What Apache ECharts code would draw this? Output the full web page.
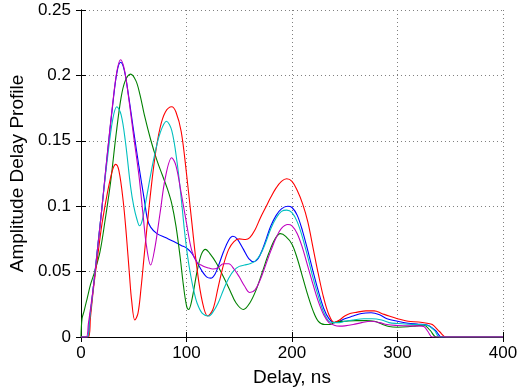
<!DOCTYPE html>
<html><head><meta charset="utf-8">
<script src="https://cdn.jsdelivr.net/npm/echarts@6/dist/echarts.min.js"></script>
<style>html,body{margin:0;padding:0;background:#fff}#c{width:525px;height:392px}</style>
</head><body><div id="c"></div>
<script>
const xTicks = [0, 100, 200, 300, 400];
const yTicks = [0, 0.05, 0.1, 0.15, 0.2, 0.25];
const seriesNames = ['blue', 'green', 'red', 'cyan', 'magenta'];

const blueData = [[0,0],[6,0],[8,0.012],[12,0.04],[16,0.07],[20,0.1],[25,0.14],[30,0.177],[34,0.202],[37.5,0.21],[41,0.204],[45,0.185],[50,0.157],[55,0.13],[60,0.105],[63,0.09],[66,0.084],[72,0.079],[80,0.076],[88,0.073],[95,0.070],[100,0.068],[105,0.064],[110,0.057],[115,0.05],[119,0.046],[123,0.045],[127,0.048],[131,0.056],[135,0.065],[140,0.074],[144,0.077],[148,0.075],[154,0.067],[159,0.06],[164,0.0575],[168,0.06],[172,0.067],[176,0.076],[180,0.085],[185,0.093],[190,0.098],[196,0.100],[200,0.099],[205,0.093],[210,0.081],[215,0.066],[220,0.050],[225,0.035],[230,0.022],[235,0.014],[240,0.011],[245,0.012],[250,0.014],[258,0.016],[266,0.018],[275,0.0185],[283,0.017],[290,0.014],[300,0.012],[310,0.0105],[320,0.0098],[328,0.0092],[336,0.005],[342,0],[400,0]];

const greenData = [[0,0],[1,0.014],[3,0.02],[6,0.03],[9,0.04],[13,0.05],[18,0.065],[23,0.09],[28,0.118],[33,0.153],[38,0.183],[42,0.196],[47,0.201],[52,0.196],[56,0.185],[60,0.17],[66,0.151],[72,0.135],[77,0.124],[82,0.113],[86,0.102],[90,0.085],[94,0.061],[97,0.04],[100,0.024],[102,0.021],[105,0.028],[110,0.05],[114,0.063],[118,0.067],[122,0.064],[128,0.057],[135,0.046],[141,0.036],[147,0.026],[154,0.021],[160,0.026],[166,0.036],[172,0.05],[178,0.064],[184,0.075],[189,0.079],[194,0.077],[200,0.071],[205,0.060],[210,0.046],[215,0.032],[220,0.020],[225,0.012],[231,0.0095],[236,0.0095],[241,0.0115],[250,0.012],[260,0.0125],[270,0.0125],[278,0.012],[285,0.01],[292,0.008],[300,0.0075],[310,0.0078],[318,0.0085],[325,0.009],[331,0.005],[337,0],[400,0]];

const redData = [[0,0],[7,0],[9,0.015],[12,0.038],[16,0.063],[20,0.087],[25,0.11],[30,0.128],[33,0.132],[36,0.127],[40,0.104],[43,0.078],[46,0.047],[48,0.028],[51,0.013],[54,0.018],[57,0.038],[60,0.063],[65,0.103],[70,0.137],[75,0.16],[80,0.172],[86,0.176],[90,0.172],[95,0.157],[100,0.125],[105,0.088],[110,0.052],[115,0.027],[120,0.016],[125,0.021],[130,0.038],[135,0.055],[140,0.067],[145,0.073],[150,0.075],[156,0.0745],[160,0.076],[165,0.082],[170,0.091],[175,0.099],[180,0.107],[185,0.114],[190,0.119],[195,0.121],[200,0.119],[205,0.112],[210,0.102],[215,0.088],[220,0.068],[225,0.048],[230,0.030],[235,0.017],[240,0.011],[245,0.013],[250,0.016],[255,0.018],[262,0.019],[270,0.020],[278,0.020],[285,0.018],[292,0.016],[300,0.014],[310,0.012],[320,0.0115],[328,0.0105],[333,0.0095],[340,0.004],[346,0],[400,0]];

const cyanData = [[0,0],[6,0],[8,0.012],[12,0.04],[16,0.07],[20,0.1],[25,0.136],[30,0.166],[34,0.176],[38,0.17],[42,0.15],[47,0.115],[50,0.1],[53,0.09],[55.5,0.085],[58,0.089],[62,0.106],[66,0.124],[70,0.14],[75,0.156],[81,0.165],[86,0.158],[91,0.134],[95,0.106],[98,0.082],[101,0.062],[104,0.047],[107,0.035],[110,0.026],[115,0.018],[121,0.016],[125,0.019],[130,0.026],[135,0.036],[140,0.045],[145,0.051],[150,0.054],[155,0.055],[160,0.056],[165,0.058],[170,0.063],[175,0.072],[180,0.083],[185,0.091],[190,0.096],[195,0.097],[200,0.095],[205,0.088],[210,0.076],[215,0.061],[220,0.045],[225,0.031],[230,0.019],[235,0.012],[240,0.011],[245,0.011],[250,0.012],[258,0.013],[268,0.014],[276,0.014],[285,0.013],[292,0.011],[300,0.0103],[310,0.0098],[320,0.0095],[328,0.009],[335,0.005],[340,0],[400,0]];

const magentaData = [[0,0],[5,0],[7,0.01],[12,0.04],[16,0.07],[20,0.1],[25,0.14],[30,0.178],[34,0.203],[37.5,0.212],[41,0.205],[45,0.184],[50,0.153],[55,0.123],[59,0.092],[62,0.07],[66,0.055],[70,0.068],[75,0.095],[80,0.122],[86,0.137],[90,0.131],[95,0.11],[100,0.087],[105,0.066],[110,0.057],[115,0.0545],[120,0.053],[125,0.052],[130,0.053],[135,0.056],[140,0.056],[145,0.052],[150,0.046],[155,0.039],[160,0.034],[165,0.036],[170,0.044],[175,0.055],[180,0.066],[185,0.076],[190,0.083],[196,0.086],[200,0.085],[205,0.079],[210,0.068],[215,0.054],[220,0.040],[225,0.027],[230,0.017],[235,0.011],[240,0.009],[245,0.0083],[250,0.0085],[258,0.0095],[266,0.011],[275,0.012],[283,0.011],[290,0.0095],[300,0.0088],[310,0.0085],[320,0.0085],[325,0.008],[329,0.004],[333,0],[400,0]];

const allData = [blueData, greenData, redData, cyanData, magentaData];
const colors = ['#0000FF', '#008000', '#FF0000', '#00BFBF', '#BF00BF'];

const FONT = 'Liberation Sans, Arial, Helvetica, sans-serif';
const chart = echarts.init(document.getElementById('c'), null, {renderer: 'canvas'});
const gridStyle = {show: true, lineStyle: {color: '#7f7f7f', type: [1, 3], width: 1}};
const tickIn = {show: true, inside: true, length: 5, lineStyle: {color: '#000'}};
chart.setOption({
  animation: false,
  backgroundColor: '#fff',
  grid: {left: 76, right: 22, top: 10, bottom: 43, containLabel: false},
  xAxis: [{
    type: 'value', min: xTicks[0], max: xTicks[xTicks.length - 1], interval: 100,
    position: 'bottom',
    name: 'Delay, ns', nameLocation: 'middle', nameGap: 31,
    nameTextStyle: {fontFamily: FONT, fontSize: 19, color: '#000'},
    axisLine: {show: true, lineStyle: {color: '#000', width: 1}},
    axisTick: tickIn,
    axisLabel: {fontFamily: FONT, fontSize: 17, color: '#000', margin: 8},
    splitLine: gridStyle
  }, {
    type: 'value', min: xTicks[0], max: xTicks[xTicks.length - 1], interval: 100,
    position: 'top',
    axisLine: {show: true, lineStyle: {color: '#000', width: 1}},
    axisTick: tickIn, axisLabel: {show: false}, splitLine: {show: false}
  }],
  yAxis: [{
    type: 'value', min: yTicks[0], max: yTicks[yTicks.length - 1], interval: 0.05,
    position: 'left',
    name: 'Amplitude Delay Profile', nameLocation: 'middle', nameGap: 46,
    nameTextStyle: {fontFamily: FONT, fontSize: 19, color: '#000'},
    axisLine: {show: true, lineStyle: {color: '#000', width: 1}},
    axisTick: tickIn,
    axisLabel: {fontFamily: FONT, fontSize: 17, color: '#000', margin: 10,
      formatter: v => String(+v.toFixed(2))},
    splitLine: gridStyle
  }, {
    type: 'value', min: yTicks[0], max: yTicks[yTicks.length - 1], interval: 0.05,
    position: 'right',
    axisLine: {show: true, lineStyle: {color: '#000', width: 1}},
    axisTick: tickIn, axisLabel: {show: false}, splitLine: {show: false}
  }],
  series: allData.map((d, i) => ({
    name: seriesNames[i], type: 'line', data: d, xAxisIndex: 0, yAxisIndex: 0,
    showSymbol: false, smooth: 0.35, clip: true,
    lineStyle: {color: colors[i], width: 1.1}, z: 2 + i
  }))
});
</script></body></html>
